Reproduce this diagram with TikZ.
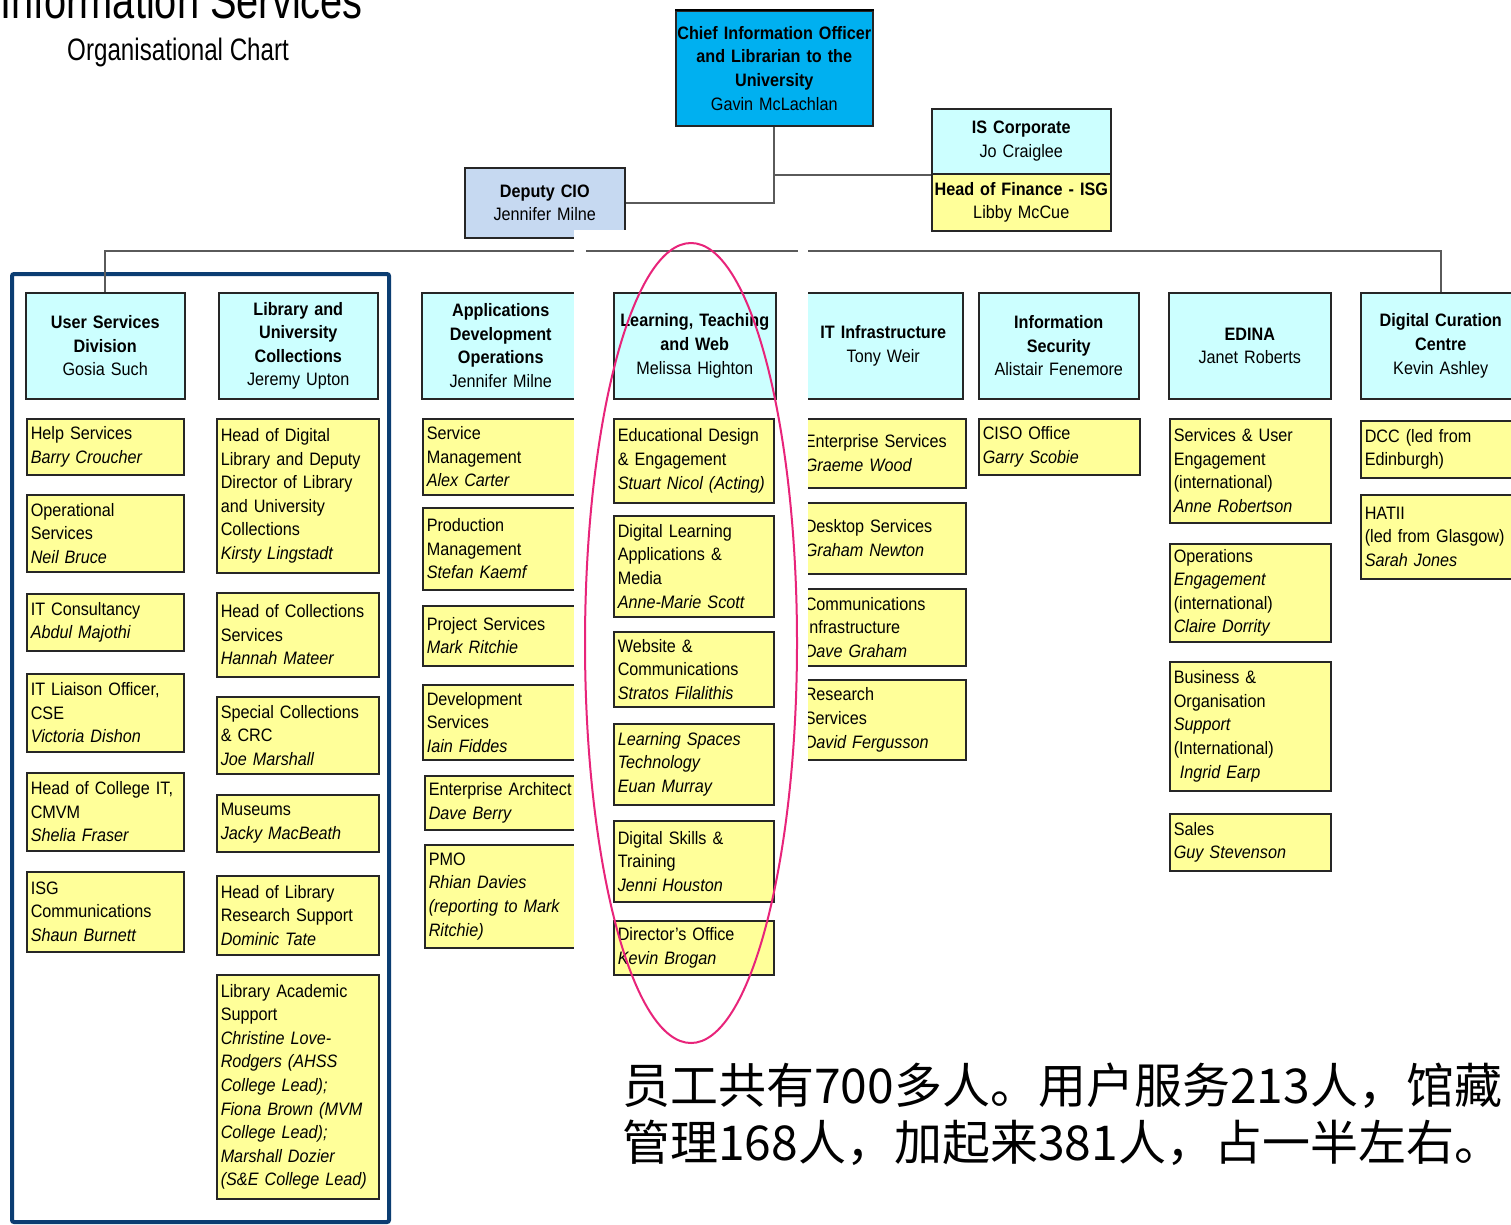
\documentclass[tikz,border=0pt]{standalone}
\usepackage{fontspec}
\setmainfont{Liberation Sans}[FakeStretch=0.9]
\newfontfamily\titlefont{Liberation Sans}[FakeStretch=0.78]
\newfontfamily\cjk{Noto Sans CJK SC}
\usetikzlibrary{shadows}
\definecolor{cioblue}{HTML}{00B0F0}
\definecolor{depblue}{HTML}{C6D9F1}
\definecolor{cyanl}{HTML}{CCFFFF}
\definecolor{ylw}{HTML}{FFFF99}
\definecolor{navy}{HTML}{0B3D72}
\definecolor{ring}{HTML}{E8247A}
\definecolor{conn}{HTML}{5A5A5A}
\newcommand\bx[7][]{%
  \pgfmathsetmacro\tw{#5-8}%
  \node[#1, anchor=north west, minimum width=#5pt, minimum height=#6pt, text width=\tw pt] (#2) at (#3,#4) {#7};}
\begin{document}
\begin{tikzpicture}[x=1pt,y=-1pt,
  box/.style={draw=black!85, line width=1.5pt, inner xsep=4pt, inner ysep=0pt,
    font=\fontsize{18}{23.6}\selectfont,
    drop shadow={shadow xshift=1.2pt, shadow yshift=-1.2pt, fill=black!60, opacity=0.6}},
  ybox/.style={box, fill=ylw, align=left},
  hbox/.style={box, fill=cyanl, align=center},
  link/.style={draw=conn, line width=2pt},
  frame/.style={draw=navy, line width=4pt, rounded corners=2pt}]
\useasboundingbox (0,0) rectangle (1511,1224);
\fill[white] (0,0) rectangle (1511,1224);

% titles
\node[anchor=base east, inner sep=0pt, font=\titlefont\fontsize{51}{60}\selectfont] (title1) at (363,18) {Information Services};
\node[anchor=base west, inner sep=0pt, font=\titlefont\fontsize{31}{36}\selectfont] (title2) at (67,60) {Organisational Chart};

% frame
\draw[frame] (12,274) rectangle (389,1222);

% top boxes
\node[box, fill=cioblue, align=center, inner xsep=0pt, text width=197pt, minimum height=115pt, anchor=north west] (cio) at (675,10)
  {\textbf{Chief Information Officer}\\\textbf{and Librarian to the}\\\textbf{University}\\Gavin McLachlan};
\draw[black, line width=2.5pt] (cio.north west) -- (cio.north east);
\node[box, fill=depblue, align=center, inner xsep=0pt, text width=160pt, minimum height=70pt, anchor=north west] (dep) at (464,167)
  {\textbf{Deputy CIO}\\Jennifer Milne};
\node[box, fill=cyanl, align=center, inner xsep=0pt, text width=179pt, minimum height=65pt, anchor=north west] (isc) at (931,108)
  {\textbf{IS Corporate}\\Jo Craiglee};
\node[box, fill=ylw, align=center, inner xsep=0pt, text width=179pt, minimum height=57pt, anchor=north west] (hof) at (931,173)
  {\textbf{Head of Finance - ISG}\\Libby McCue};

% headers
\bx[hbox]{usd}{25}{292}{159}{106}{\textbf{User Services}\\\textbf{Division}\\Gosia Such}
\bx[hbox]{luc}{218}{292}{159}{106}{\textbf{Library and}\\\textbf{University}\\\textbf{Collections}\\Jeremy Upton}
\bx[hbox]{ado}{421}{292}{158}{106}{\textbf{Applications}\\\textbf{Development}\\\textbf{Operations}\\Jennifer Milne}
\bx[hbox]{ltw}{613}{292}{162}{106}{\textbf{Learning, Teaching}\\\textbf{and Web}\\Melissa Highton}
\bx[hbox]{iti}{803}{292}{159}{106}{\textbf{IT Infrastructure}\\Tony Weir}
\bx[hbox]{isec}{978}{292}{160}{106}{\textbf{Information}\\\textbf{Security}\\Alistair Fenemore}
\bx[hbox]{edina}{1168}{292}{162}{106}{\textbf{EDINA}\\Janet Roberts}
\bx[hbox]{dcc}{1360}{292}{160}{106}{\textbf{Digital Curation}\\\textbf{Centre}\\Kevin Ashley}

% connectors
\coordinate (bus) at (0,251);
\draw[link] (cio.south) |- (dep.east);
\draw[link] (cio.south |- isc.south west) -- (isc.south west);
\draw[link] (usd.north) -- (usd.north |- bus) -- (dcc.north |- bus) -- (dcc.north);

% column 1
\bx[ybox]{hs}{26}{418}{157}{56}{Help Services\\\textit{Barry Croucher}}
\bx[ybox]{os}{26}{494}{157}{77}{Operational\\Services\\\textit{Neil Bruce}}
\bx[ybox]{itc}{26}{593}{157}{57}{IT Consultancy\\\textit{Abdul Majothi}}
\bx[ybox]{itl}{26}{673}{157}{78}{IT Liaison Officer,\\CSE\\\textit{Victoria Dishon}}
\bx[ybox]{hcit}{26}{772}{157}{78}{Head of College IT,\\CMVM\\\textit{Shelia Fraser}}
\bx[ybox]{isgc}{26}{871}{157}{80}{ISG\\Communications\\\textit{Shaun Burnett}}

% column 2
\bx[ybox]{hdl}{216}{418}{162}{154}{Head of Digital\\Library and Deputy\\Director of Library\\and University\\Collections\\\textit{Kirsty Lingstadt}}
\bx[ybox]{hcs}{216}{592}{162}{84}{Head of Collections\\Services\\\textit{Hannah Mateer}}
\bx[ybox]{spc}{216}{696}{162}{77}{Special Collections\\\& CRC\\\textit{Joe Marshall}}
\bx[ybox]{mus}{216}{794}{162}{57}{Museums\\\textit{Jacky MacBeath}}
\bx[ybox]{hlrs}{216}{875}{162}{79}{Head of Library\\Research Support\\\textit{Dominic Tate}}
\bx[ybox]{las}{216}{974}{162}{224}{Library Academic\\Support\\\textit{Christine Love-}\\\textit{Rodgers (AHSS}\\\textit{College Lead);}\\\textit{Fiona Brown (MVM}\\\textit{College Lead);}\\\textit{Marshall Dozier}\\\textit{(S\&E College Lead)}}

% column 3
\bx[ybox]{sm}{422}{418}{156}{76}{Service\\Management\\\textit{Alex Carter}}
\bx[ybox]{pm}{422}{507}{156}{82}{Production\\Management\\\textit{Stefan Kaemf}}
\bx[ybox]{ps}{422}{605}{156}{60}{Project Services\\\textit{Mark Ritchie}}
\bx[ybox]{dvs}{422}{684}{156}{75}{Development\\Services\\\textit{Iain Fiddes}}
\bx[ybox]{ea}{424}{775}{154}{54}{Enterprise Architect\\\textit{Dave Berry}}
\bx[ybox]{pmo}{424}{844}{154}{103}{PMO\\\textit{Rhian Davies}\\\textit{(reporting to Mark}\\\textit{Ritchie)}}

% column 4
\bx[ybox]{ede}{613}{418}{160}{84}{Educational Design\\\& Engagement\\\textit{Stuart Nicol (Acting)}}
\bx[ybox]{dla}{613}{515}{160}{101}{Digital Learning\\Applications \&\\Media\\\textit{Anne-Marie Scott}}
\bx[ybox]{wc}{613}{631}{160}{75}{Website \&\\Communications\\\textit{Stratos Filalithis}}
\bx[ybox]{lst}{613}{723}{160}{81}{\textit{Learning Spaces}\\\textit{Technology}\\\textit{Euan Murray}}
\bx[ybox]{dst}{613}{820}{160}{81}{Digital Skills \&\\Training\\\textit{Jenni Houston}}
\bx[ybox]{dof}{613}{920}{160}{54}{Director's Office\\\textit{Kevin Brogan}}

% column 5
\bx[ybox]{ens}{800}{418}{165}{69}{Enterprise Services\\\textit{Graeme Wood}}
\bx[ybox]{dts}{800}{502}{165}{71}{Desktop Services\\\textit{Graham Newton}}
\bx[ybox]{cin}{800}{588}{165}{77}{Communications\\Infrastructure\\\textit{Dave Graham}}
\bx[ybox]{rs}{800}{679}{165}{80}{Research\\Services\\\textit{David Fergusson}}

% column 6
\bx[ybox]{ciso}{978}{418}{161}{56}{CISO Office\\\textit{Garry Scobie}}

% column 7
\bx[ybox]{sue}{1169}{418}{161}{104}{Services \& User\\Engagement\\(international)\\\textit{Anne Robertson}}
\bx[ybox]{ope}{1169}{543}{161}{98}{Operations\\\textit{Engagement}\\(international)\\\textit{Claire Dorrity}}
\bx[ybox]{bos}{1169}{661}{161}{129}{Business \&\\Organisation\\\textit{Support}\\(International)\\\ \textit{Ingrid Earp}}
\bx[ybox]{sal}{1169}{813}{161}{57}{Sales\\\textit{Guy Stevenson}}

% column 8
\bx[ybox]{dccd}{1360}{420}{165}{57}{DCC (led from\\Edinburgh)}
\bx[ybox]{hatii}{1360}{494}{165}{84}{HATII\\(led from Glasgow)\\\textit{Sarah Jones}}

% white cut strips of the screenshot
\fill[white] (574,230) rectangle (630,241);
\fill[white] (574,230) rectangle (586,1224);
\fill[white] (798,241) rectangle (808,1224);

% highlight ring
\draw[draw=ring, line width=2pt] (691,643) ellipse [x radius=106, y radius=400];

% note
\node[anchor=base west, inner sep=0pt, font=\cjk\fontsize{48}{57}\selectfont] (note1) at (622,1103) {员工共有700多人。用户服务213人，馆藏};
\node[anchor=base west, inner sep=0pt, font=\cjk\fontsize{48}{57}\selectfont] (note2) at (622,1160) {管理168人，加起来381人，占一半左右。};
\end{tikzpicture}
\end{document}
